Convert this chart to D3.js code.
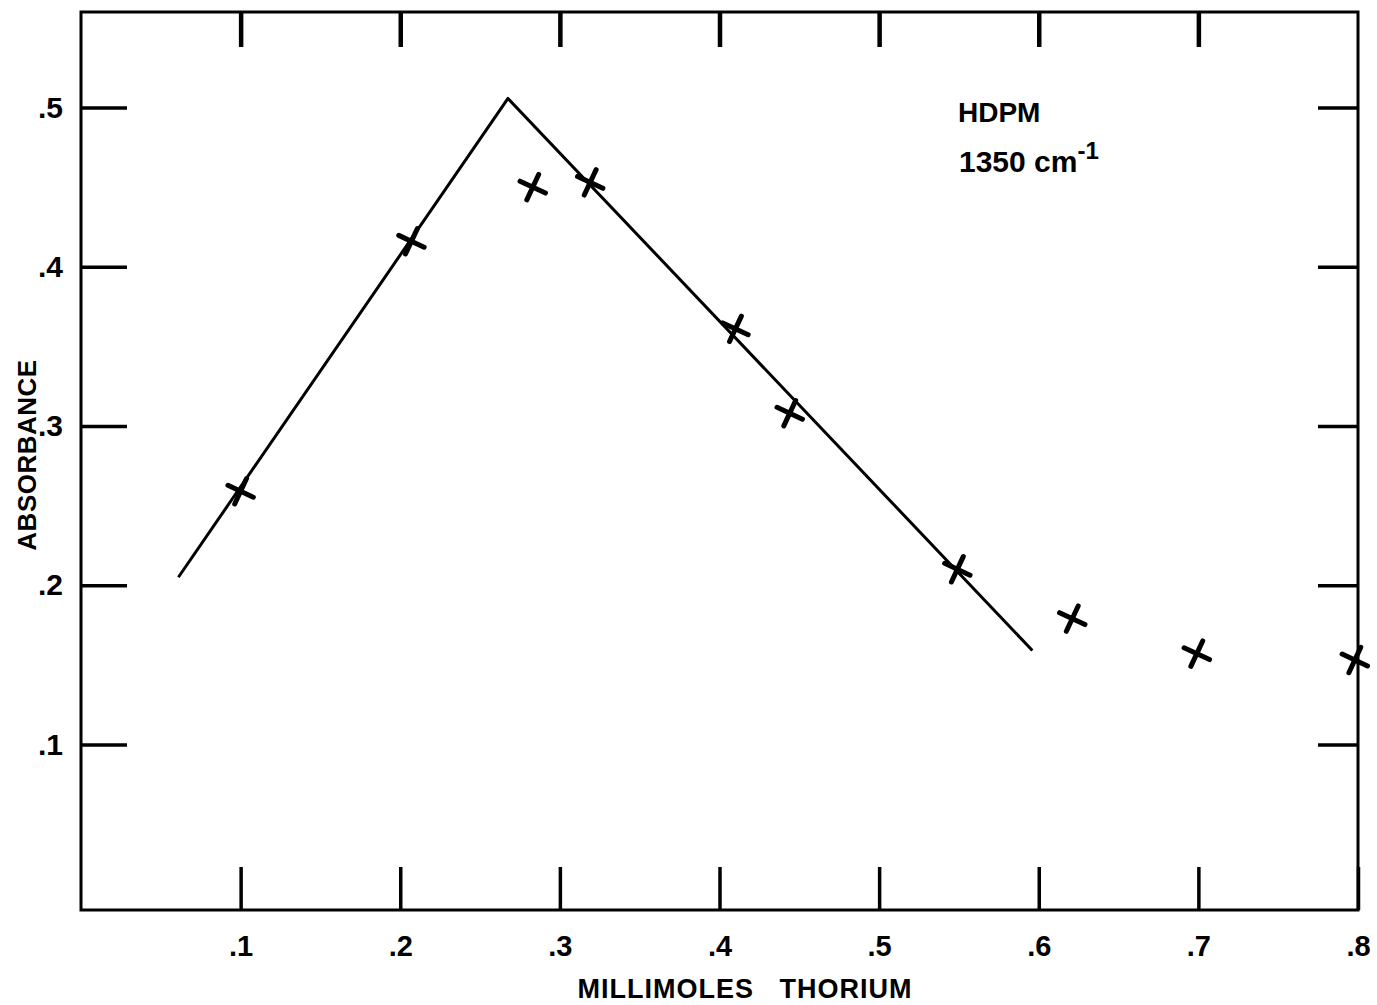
<!DOCTYPE html>
<html>
<head>
<meta charset="utf-8">
<script src="https://cdn.jsdelivr.net/npm/d3@7"></script>
<style>
  body { margin: 0; background: #fff; }
  text { fill: #000; font-family: "Liberation Sans", Arial, sans-serif; }
</style>
</head>
<body>
<script>
// measured points (millimoles Th, absorbance)
let thorium    = [0.10, 0.207, 0.283, 0.319, 0.41, 0.444, 0.549, 0.621, 0.699, 0.798];
let absorbance = [0.259, 0.416, 0.450, 0.453, 0.361, 0.308, 0.210, 0.179, 0.157, 0.153];

// fitted two-segment line
let lineX = [0.061, 0.2675, 0.596];
let lineY = [0.205, 0.5057, 0.159];

let xTicks = [0.1, 0.2, 0.3, 0.4, 0.5, 0.6, 0.7, 0.8];
let yTicks = [0.1, 0.2, 0.3, 0.4, 0.5];

let width = 1377, height = 1005;

let svg = d3.select("body").append("svg")
    .attr("width", width)
    .attr("height", height);

let x = d3.scaleLinear().domain([0, 0.8]).range([81, 1358]);
let y = d3.scaleLinear().domain([-0.004, 0.56]).range([910, 12]);

let fmt = d => d3.format(".1f")(d).replace(/^0/, "");

// frame
svg.append("rect")
    .attr("x", x(0))
    .attr("y", y(0.56))
    .attr("width", x(0.8) - x(0))
    .attr("height", y(-0.004) - y(0.56))
    .attr("fill", "none")
    .attr("stroke", "#000")
    .attr("stroke-width", 3);

// bottom axis: inward ticks + labels
let gx = svg.append("g")
    .attr("transform", `translate(0, ${y(-0.004)})`)
    .call(d3.axisBottom(x).tickValues(xTicks).tickSize(-43).tickPadding(25).tickFormat(fmt));

// top ticks
let gt = svg.append("g")
    .attr("transform", `translate(0, ${y(0.56)})`)
    .call(d3.axisTop(x).tickValues(xTicks.slice(0, 7)).tickSize(-35).tickFormat(""));

// left axis
let gy = svg.append("g")
    .attr("transform", `translate(${x(0)}, 0)`)
    .call(d3.axisLeft(y).tickValues(yTicks).tickSize(-46).tickPadding(18).tickFormat(fmt));

// right ticks
let gr = svg.append("g")
    .attr("transform", `translate(${x(0.8)}, 0)`)
    .call(d3.axisRight(y).tickValues(yTicks).tickSize(-40).tickFormat(""));

[gx, gt, gy, gr].forEach(g => {
    g.select(".domain").remove();
    g.selectAll(".tick line").attr("stroke", "#000").attr("stroke-width", 3.5);
});
gt.selectAll(".tick line").attr("stroke-width", 4.5);

gx.selectAll("text")
    .attr("font-size", 29)
    .attr("font-weight", "bold")
    .attr("font-family", "Liberation Sans, Arial, sans-serif");
gy.selectAll("text")
    .attr("font-size", 30)
    .attr("font-weight", "bold")
    .attr("font-family", "Liberation Sans, Arial, sans-serif");

// fitted line
let line = d3.line()
    .x(d => x(d[0]))
    .y(d => y(d[1]));

svg.append("path")
    .datum(lineX.map((v, i) => [v, lineY[i]]))
    .attr("d", line)
    .attr("fill", "none")
    .attr("stroke", "#000")
    .attr("stroke-width", 3)
    .attr("stroke-linejoin", "round");

// cross markers
svg.selectAll(".pt")
    .data(thorium.map((v, i) => [v, absorbance[i]]))
    .enter()
    .append("path")
        .attr("class", "pt")
        .attr("transform", d => `translate(${x(d[0])}, ${y(d[1])}) rotate(25)`)
        .attr("d", "M-14,0L14,0M0,-14L0,14")
        .attr("stroke", "#000")
        .attr("stroke-width", 5)
        .attr("stroke-linecap", "round");

// axis titles
svg.append("text")
    .attr("x", 745)
    .attr("y", 998)
    .attr("text-anchor", "middle")
    .attr("font-size", 27)
    .attr("font-weight", "bold")
    .attr("letter-spacing", 1)
    .style("white-space", "pre")
    .text("MILLIMOLES   THORIUM");

svg.append("text")
    .attr("transform", "translate(36, 455) rotate(-90)")
    .attr("text-anchor", "middle")
    .attr("font-size", 26)
    .attr("font-weight", "bold")
    .attr("letter-spacing", 0.5)
    .text("ABSORBANCE");

// annotation
svg.append("text")
    .attr("x", 958)
    .attr("y", 122)
    .attr("font-size", 28)
    .attr("font-weight", "bold")
    .text("HDPM");

let t2 = svg.append("text")
    .attr("x", 959)
    .attr("y", 172)
    .attr("font-size", 30)
    .attr("font-weight", "bold");
t2.append("tspan").text("1350 cm");
t2.append("tspan").attr("dy", -13).attr("font-size", 24).text("-1");
</script>
</body>
</html>
